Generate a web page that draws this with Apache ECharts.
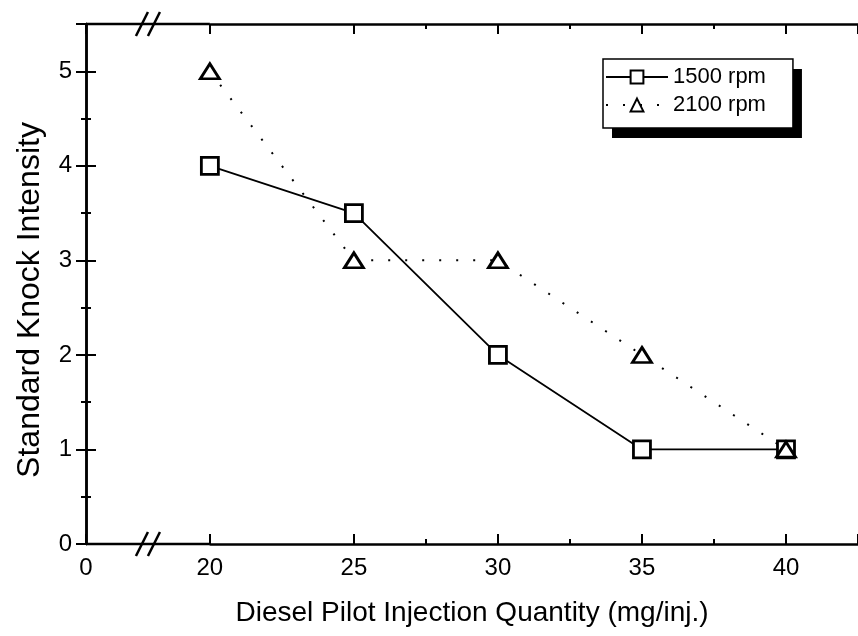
<!DOCTYPE html>
<html>
<head>
<meta charset="utf-8">
<script src="https://cdn.jsdelivr.net/npm/echarts@6/dist/echarts.min.js"></script>
<style>
  html, body { margin: 0; padding: 0; background: #fff; }
  #main { width: 858px; height: 636px; }
</style>
</head>
<body>
<div id="main"></div>
<script>
// pilot quantity (mg/inj.) and knock intensity per engine speed
const quantity = [20, 25, 30, 35, 40];
const knock1500 = [4, 3.5, 2, 1, 1];
const knock2100 = [5, 3, 3, 2, 1];
const xLabels = [0, 20, 25, 30, 35, 40];
const yLabels = [0, 1, 2, 3, 4, 5];

const FONT = 'Liberation Sans, Arial, Helvetica, sans-serif';

function pairs(xs, ys) {
    return xs.map((x, i) => [x, ys[i]]);
}

function xAxisCfg(pos, showLabel) {
    return {
        type: 'value',
        position: pos,
        min: 0,
        max: 42.5,
        interval: 5,
        breaks: [{ start: 0, end: 20, gap: 4.3 }],
        breakArea: { show: false },
        axisLine: { show: true, onZero: false, lineStyle: { color: '#000', width: 2.5 } },
        axisTick: { show: true, inside: true, length: 10, lineStyle: { color: '#000', width: 2 } },
        minorTick: { show: true, splitNumber: 2, length: 5, lineStyle: { color: '#000', width: 2 } },
        splitLine: { show: false },
        axisLabel: {
            show: showLabel,
            color: '#000',
            fontFamily: FONT,
            fontSize: 24,
            margin: 12,
            showMaxLabel: false,
            formatter: v => (xLabels.indexOf(v) >= 0 ? String(v) : '')
        }
    };
}

function yAxisCfg(pos, showLabel) {
    return {
        type: 'value',
        position: pos,
        min: 0,
        max: 5.5,
        interval: 1,
        axisLine: { show: true, lineStyle: { color: '#000', width: 2.5 } },
        axisTick: { show: true, inside: true, length: 10, lineStyle: { color: '#000', width: 2 } },
        minorTick: { show: true, splitNumber: 2, length: 5, lineStyle: { color: '#000', width: 2 } },
        splitLine: { show: false },
        axisLabel: {
            show: showLabel,
            color: '#000',
            fontFamily: FONT,
            fontSize: 24,
            margin: 14,
            showMaxLabel: false,
            formatter: v => (yLabels.indexOf(v) >= 0 ? String(v) : '')
        }
    };
}

// two identical legends: a black one offset as the drop shadow, a framed white one on top
function legendCfg(shadow) {
    const cfg = {
        orient: 'vertical',
        left: shadow ? 612 : 603,
        top: shadow ? 69 : 59,
        itemWidth: 62,
        itemHeight: 16,
        itemGap: 6,
        padding: [7, 27, 12, 2],
        backgroundColor: shadow ? '#000' : '#fff',
        borderColor: '#000',
        borderWidth: shadow ? 0 : 1.5,
        borderRadius: 0,
        z: shadow ? 5 : 6,
        selectedMode: false,
        textStyle: { color: shadow ? 'transparent' : '#000', fontFamily: FONT, fontSize: 22 },
        data: ['1500 rpm', '2100 rpm']
    };
    if (shadow) {
        cfg.itemStyle = { opacity: 0 };
        cfg.lineStyle = { opacity: 0 };
    }
    return cfg;
}

const chart = echarts.init(document.getElementById('main'));

const xBottom = xAxisCfg('bottom', true);
xBottom.name = 'Diesel Pilot Injection Quantity (mg/inj.)';
xBottom.nameLocation = 'middle';
xBottom.nameGap = 55;
xBottom.nameTextStyle = { color: '#000', fontFamily: FONT, fontSize: 28 };

const yLeft = yAxisCfg('left', true);
yLeft.name = 'Standard Knock Intensity';
yLeft.nameLocation = 'middle';
yLeft.nameGap = 40;
yLeft.nameTextStyle = { color: '#000', fontFamily: FONT, fontSize: 32, padding: [0, 32, 0, 0] };

const option = {
    backgroundColor: '#fff',
    animation: false,
    grid: { left: 86, right: -2, top: 24, bottom: 92, containLabel: false },
    xAxis: [xBottom, xAxisCfg('top', false)],
    yAxis: [yLeft, yAxisCfg('right', false)],
    legend: [legendCfg(true), legendCfg(false)],
    series: [
        {
            name: '1500 rpm',
            type: 'line',
            data: pairs(quantity, knock1500),
            symbol: 'rect',
            symbolSize: 17,
            itemStyle: { color: '#fff', borderColor: '#000', borderWidth: 2.8 },
            lineStyle: { color: '#000', width: 1.8 },
            z: 3
        },
        {
            name: '2100 rpm',
            type: 'line',
            data: pairs(quantity, knock2100),
            symbol: 'triangle',
            symbolSize: [19, 15],
            itemStyle: { color: '#fff', borderColor: '#000', borderWidth: 2.8 },
            lineStyle: { color: '#000', width: 2, type: [2, 15] },
            z: 4
        }
    ]
};

chart.setOption(option);

// axis line through the broken span, plus the "//" break marks
const x0 = chart.convertToPixel({ xAxisIndex: 0 }, 0);
const x20 = chart.convertToPixel({ xAxisIndex: 0 }, 20);
const yBot = chart.convertToPixel({ yAxisIndex: 0 }, 0);
const yTop = chart.convertToPixel({ yAxisIndex: 0 }, 5.5);
const mid = (x0 + x20) / 2;
const marks = [];
[yTop, yBot].forEach(y => {
    marks.push({
        type: 'line',
        shape: { x1: x0, y1: y, x2: x20, y2: y },
        style: { stroke: '#000', lineWidth: 2.5 },
        z: 99
    });
    [-6, 6].forEach(dx => {
        marks.push({
            type: 'line',
            shape: { x1: mid + dx - 6, y1: y + 12, x2: mid + dx + 6, y2: y - 12 },
            style: { stroke: '#000', lineWidth: 2.5 },
            z: 100
        });
    });
});
chart.setOption({ graphic: marks });
</script>
</body>
</html>
